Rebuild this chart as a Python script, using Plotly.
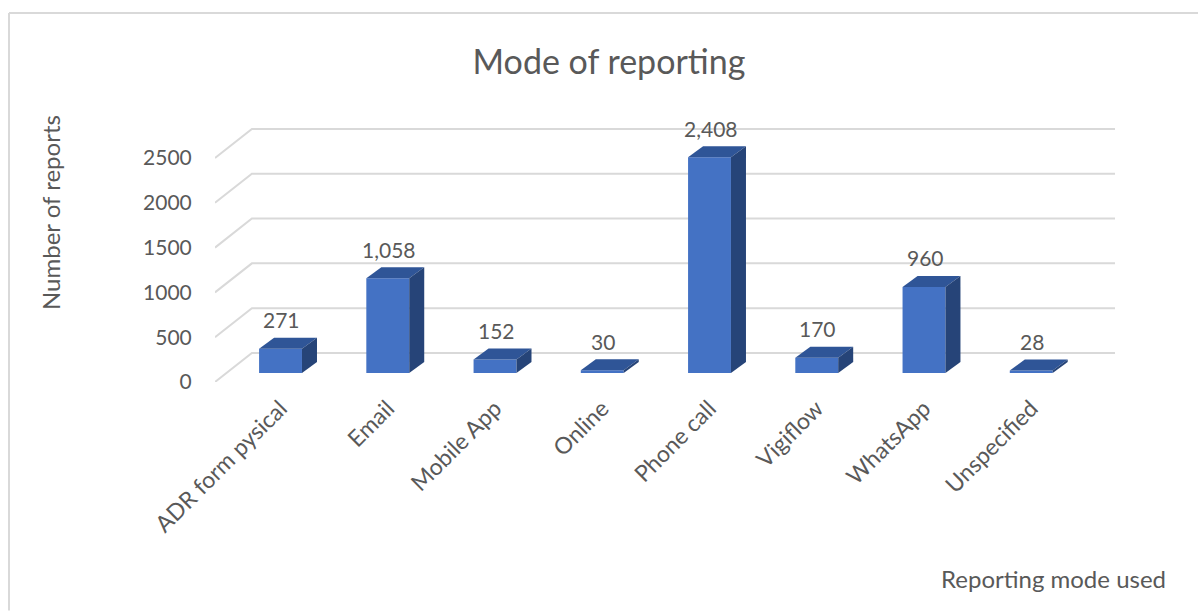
import plotly.graph_objects as go

# Reports received per reporting channel
categories = ["ADR form pysical", "Email", "Mobile App", "Online",
              "Phone call", "Vigiflow", "WhatsApp", "Unspecified"]
reports = [271, 1058, 152, 30, 2408, 170, 960, 28]
y_ticks = [0, 500, 1000, 1500, 2000, 2500]

# Oblique-projection geometry (axis units)
BAR_W = 0.4          # front-face width of a bar
FLOOR = 100          # bars stand a little behind the front edge of the floor
DEPTH_X = 0.14       # horizontal shift of the bar's back edges
DEPTH_Y = 123        # vertical shift of the bar's back edges
WALL_X = 0.344       # horizontal depth of the floor / side wall
WALL_Y = 324         # vertical depth of the floor / side wall
X_MIN, X_MAX = -0.611, 7.781
Y_MAX = 3147

FRONT = "#4472C4"
TOP = "#2F5597"
SIDE = "#264478"
GRID = "#D9D9D9"
TEXT = "#595959"
FONT = "Lato"

xs = list(range(len(categories)))

fig = go.Figure()
fig.add_trace(go.Bar(
    x=xs, y=reports, base=FLOOR, width=BAR_W,
    marker=dict(color=FRONT, line=dict(width=0)),
    hovertext=categories, hoverinfo="text+y",
))

shapes = []
# Gridlines: diagonal on the side wall, horizontal on the back wall
for v in y_ticks:
    shapes.append(dict(
        type="path", xref="x", yref="y", layer="below",
        path=f"M {X_MIN},{v} L {X_MIN + WALL_X},{v + WALL_Y} L {X_MAX},{v + WALL_Y}",
        line=dict(color=GRID, width=2),
    ))

# Top and side faces of each bar
for x, v in zip(xs, reports):
    l, r = x - BAR_W / 2, x + BAR_W / 2
    top = FLOOR + v
    shapes.append(dict(
        type="path", xref="x", yref="y",
        path=(f"M {l},{top} L {r},{top} L {r + DEPTH_X},{top + DEPTH_Y} "
              f"L {l + DEPTH_X},{top + DEPTH_Y} Z"),
        fillcolor=TOP, line=dict(width=0),
    ))
    shapes.append(dict(
        type="path", xref="x", yref="y",
        path=(f"M {r},{FLOOR} L {r},{top} L {r + DEPTH_X},{top + DEPTH_Y} "
              f"L {r + DEPTH_X},{FLOOR + DEPTH_Y} Z"),
        fillcolor=SIDE, line=dict(width=0),
    ))

# Chart-area border (left and top edges)
shapes.append(dict(type="line", xref="paper", yref="paper",
                   x0=-0.2289, x1=-0.2289, y0=1.3085, y1=-0.81,
                   line=dict(color=GRID, width=2)))
shapes.append(dict(type="line", xref="paper", yref="paper",
                   x0=-0.2289, x1=(1198 - 215) / 900, y0=1.3085, y1=1.3085,
                   line=dict(color=GRID, width=2)))

annotations = []
for x, v in zip(xs, reports):
    annotations.append(dict(
        x=x + 0.01, y=FLOOR + v + DEPTH_Y, xref="x", yref="y",
        text=f"{v:,}", showarrow=False, yanchor="middle", yshift=18,
        font=dict(family=FONT, size=21, color=TEXT),
    ))

annotations.append(dict(
    text="Number of reports", xref="paper", yref="paper",
    x=(50 - 215) / 900, y=(382 - 213) / 282, textangle=-90,
    showarrow=False, xanchor="center", yanchor="middle",
    font=dict(family=FONT, size=24, color=TEXT),
))
annotations.append(dict(
    text="Reporting mode used", xref="paper", yref="paper",
    x=(1168 - 215) / 900, y=(382 - 578) / 282,
    showarrow=False, xanchor="right", yanchor="middle",
    font=dict(family=FONT, size=24, color=TEXT),
))

fig.update_layout(
    width=1198, height=612,
    margin=dict(l=215, r=83, t=100, b=230),
    paper_bgcolor="white", plot_bgcolor="white",
    showlegend=False,
    title=dict(text="Mode of reporting", x=609 / 1198, xanchor="center",
               y=1 - 62 / 612, yanchor="middle", yref="container",
               font=dict(family=FONT, size=34, color=TEXT)),
    xaxis=dict(range=[X_MIN, X_MAX], tickmode="array", tickvals=xs,
               ticktext=categories, tickangle=-45, showgrid=False,
               zeroline=False, showline=False, ticks="outside",
               tickcolor="rgba(0,0,0,0)", ticklen=3,
               tickfont=dict(family=FONT, size=23, color=TEXT)),
    yaxis=dict(range=[0, Y_MAX], tickmode="array", tickvals=y_ticks,
               ticktext=[str(v) for v in y_ticks], showgrid=False,
               zeroline=False, showline=False, ticks="outside",
               tickcolor="rgba(0,0,0,0)", ticklen=18,
               tickfont=dict(family=FONT, size=21, color=TEXT)),
    shapes=shapes, annotations=annotations,
    font=dict(family=FONT, color=TEXT),
)

fig.write_html("out.html")
